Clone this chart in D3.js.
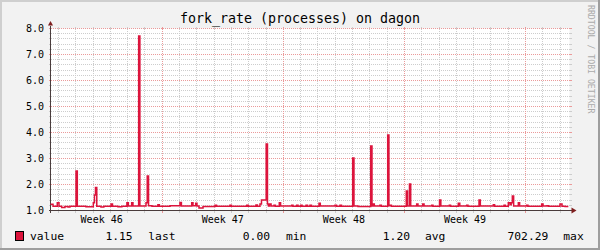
<!DOCTYPE html>
<html><head><meta charset="utf-8">
<script src="https://cdn.jsdelivr.net/npm/d3@7"></script>
<style>
body{margin:0;background:#f2f2f2}
svg{display:block}
text{font-family:"DejaVu Sans Mono",monospace}
</style>
</head><body>
<svg id="c" width="600" height="250"></svg>
<script>
// ---------- data ----------
const title = "fork_rate (processes) on dagon";
const seriesName = "value";
const startTime = "2009-11-09T13:00:00Z";
const spanHours = 720;
// sample times (hours since start) and values, step-after
const sampleHours = [0,3.5,9.4,11.8,15.5,20,24.3,27,35.4,37.2,49.2,59.4,61,62.4,64.2,70,74,84,86,93.6,99,106,108,112.6,114.4,
  122.3,124,132.5,134.2,136,140.8,149,151,165.8,179.6,181.6,195.9,197.7,201.4,203.2,206,211.6,228.2,230.3,249,251,
  272.2,274.3,285,287,290.6,292.7,299.2,301,302.4,303.8,306,310,312,317.4,319.2,334.6,336.4,341.5,343.4,347.1,349,
  354.5,356.5,360,362,372.5,374.3,394.7,396.8,401.6,403.7,419.2,421,426.6,444.2,446,447.4,449.2,457,459,467.8,469.5,
  471,473,493.6,495.3,498,499.7,508,509.8,516.3,518.2,528.8,530.6,539.7,541.5,553.3,555,565.7,567.8,577.4,579.2,
  594.5,596.3,614.3,616.1,629.2,631,635.1,637.5,639.1,640.7,642.5,649,650.8,660.6,662.4,681.4,683.3,688.8,690.9,
  706.8,709.6,713.8,718.4];
const sampleValues = [1.24,1.16,1.3,1.16,1.12,1.15,1.13,1.16,2.52,1.16,1.14,1.3,1.6,1.88,1.16,1.13,1.16,1.25,1.16,1.14,1.16,1.3,1.17,1.3,1.17,
  7.71,1.17,1.3,2.33,1.18,1.16,1.22,1.16,1.18,1.31,1.17,1.3,1.18,1.28,1.17,1.1,1.15,1.2,1.16,1.2,1.16,
  1.2,1.16,1.21,1.16,1.25,1.4,3.56,1.25,1.17,1.25,1.17,1.2,1.16,1.3,1.17,1.2,1.16,1.2,1.16,1.2,1.16,
  1.2,1.16,1.2,1.16,1.28,1.17,1.2,1.16,1.2,1.16,3.02,1.17,1.15,3.48,1.17,1.25,1.17,1.2,1.16,3.9,1.18,
  1.2,1.16,1.75,1.17,2.02,1.17,1.25,1.17,1.25,1.17,1.2,1.16,1.4,1.17,1.2,1.16,1.28,1.17,1.2,1.16,
  1.4,1.17,1.22,1.16,1.2,1.16,1.3,1.22,1.3,1.56,1.17,1.3,1.17,1.2,1.16,1.25,1.17,1.18,1.16,
  1.25,1.16,1.15,1.15];
const yTickValues = [1,2,3,4,5,6,7,8];
const yTickLabels = ["1.0","2.0","3.0","4.0","5.0","6.0","7.0","8.0"];
const legendValues = ["1.15","0.00","1.20","702.29"];
const legendLabels = ["last","min","avg","max"];
const watermark = "RRDTOOL / TOBI OETIKER";

// ---------- layout ----------
const X0 = 50.5, X1 = 569.5, Y0 = 210.5, Y1 = 28.5;
const C = {back:"#f2f2f2", canvas:"#ffffff", shadeA:"#cfcfcf", shadeB:"#9e9e9e",
  grid:"#cdcdcd", mgrid:"#eb9a9a", axis:"#4a3c3c", arrow:"#7f1f1f", line:"#dc143c"};

const svg = d3.select("#c");
const t0 = new Date(startTime);
const t1 = new Date(t0.getTime() + spanHours*3600e3);
const x = d3.scaleUtc().domain([t0, t1]).range([X0, X1]);
const y = d3.scaleLinear().domain([d3.min(yTickValues), d3.max(yTickValues)]).range([Y0, Y1]);

svg.append("rect").attr("width",600).attr("height",250).attr("fill",C.back);
// 3D frame
svg.append("path").attr("d","M0,1H600M1,0V250").attr("stroke",C.shadeA).attr("stroke-width",2);
svg.append("path").attr("d","M0,249H600M599,0V250").attr("stroke",C.shadeB).attr("stroke-width",2);
svg.append("rect").attr("x",X0).attr("y",Y1).attr("width",X1-X0).attr("height",Y0-Y1).attr("fill",C.canvas);

const g = svg.append("g").attr("shape-rendering","crispEdges");
function hGrid(v, col){
  const yy = y(v);
  g.append("line").attr("x1",X0-2).attr("x2",X1+2).attr("y1",yy).attr("y2",yy)
    .attr("stroke",col).attr("stroke-dasharray","1,1");
  g.append("line").attr("x1",X0-2).attr("x2",X0).attr("y1",yy).attr("y2",yy).attr("stroke",col);
  g.append("line").attr("x1",X1).attr("x2",X1+2).attr("y1",yy).attr("y2",yy).attr("stroke",col);
}
function vGrid(t, col){
  const xx = Math.round(x(t)-0.5)+0.5;
  g.append("line").attr("x1",xx).attr("x2",xx).attr("y1",Y1-2).attr("y2",Y0+2)
    .attr("stroke",col).attr("stroke-dasharray","1,1");
  g.append("line").attr("x1",xx).attr("x2",xx).attr("y1",Y0).attr("y2",Y0+2).attr("stroke",col);
  g.append("line").attr("x1",xx).attr("x2",xx).attr("y1",Y1-2).attr("y2",Y1).attr("stroke",col);
}
const minorY = y.ticks(35).filter(v => !yTickValues.includes(v));
minorY.forEach(v => hGrid(v, C.grid));
const days = d3.utcDay.range(t0, t1);
const mondays = d3.utcMonday.range(t0, t1);
days.filter(d => d.getUTCDay() !== 1).forEach(d => vGrid(d, C.grid));
yTickValues.forEach(v => hGrid(v, C.mgrid));
mondays.forEach(d => vGrid(d, C.mgrid));

// y labels
svg.append("g").selectAll("text").data(yTickValues).join("text")
  .attr("x",44).attr("y",v => y(v)+3.6).attr("text-anchor","end")
  .attr("font-size","10px").attr("fill","#000")
  .text((v,i) => yTickLabels[i]);

// week labels centred in each week
const labelTimes = d3.utcMonday.range(d3.utcMonday.floor(t0), t1)
  .map(m => new Date(m.getTime() + 3.5*86400e3))
  .filter(t => t >= t0 && t <= t1);
svg.append("g").selectAll("text").data(labelTimes).join("text")
  .attr("x",d => x(d)).attr("y",223).attr("text-anchor","middle")
  .attr("font-size","10px").attr("fill","#000")
  .text(d => d3.utcFormat("Week %V")(d));

// data line
const pts = sampleHours.map((h,i) => [new Date(t0.getTime()+h*3600e3), sampleValues[i]]);
const line = d3.line().x(d => x(d[0])).y(d => y(Math.min(d[1], 8))).curve(d3.curveStepAfter);
svg.append("path").datum(pts).attr("d",line).attr("fill","none")
  .attr("stroke",C.line).attr("stroke-width",1.5);

// axes
g.append("line").attr("x1",X0-2).attr("x2",X1+2).attr("y1",Y0).attr("y2",Y0).attr("stroke",C.axis);
g.append("line").attr("x1",X0).attr("x2",X0).attr("y1",Y0+2).attr("y2",Y1-3).attr("stroke",C.axis);
svg.append("path").attr("d",`M${X1+2},${Y0-3}L${X1+7},${Y0}L${X1+2},${Y0+3}Z`).attr("fill",C.arrow);
svg.append("path").attr("d",`M${X0-2.5},${Y1-3}L${X0},${Y1-7.5}L${X0+2.5},${Y1-3}Z`).attr("fill",C.arrow);

// title
svg.append("text").attr("x",300).attr("y",23).attr("text-anchor","middle")
  .attr("font-size","13.3px").attr("fill","#000").text(title);

// watermark
svg.append("text").attr("transform","translate(588,5) rotate(90)")
  .attr("font-size","8.2px").attr("fill","#aaaaaa").text(watermark);

// legend
svg.append("rect").attr("x",15.5).attr("y",231.5).attr("width",8).attr("height",9)
  .attr("fill",C.line).attr("stroke","#000").attr("shape-rendering","crispEdges");
const lg = svg.append("g").attr("font-size","11.3px").attr("fill","#000");
lg.append("text").attr("x",30).attr("y",240).text(seriesName);
const valEnds = [132.7, 270, 410, 548.3];
const labStarts = [148.3, 286, 425, 563.3];
legendValues.forEach((v,i) => {
  lg.append("text").attr("x",valEnds[i]).attr("y",240).attr("text-anchor","end").text(v);
  lg.append("text").attr("x",labStarts[i]).attr("y",240).text(legendLabels[i]);
});
</script>
</body></html>
